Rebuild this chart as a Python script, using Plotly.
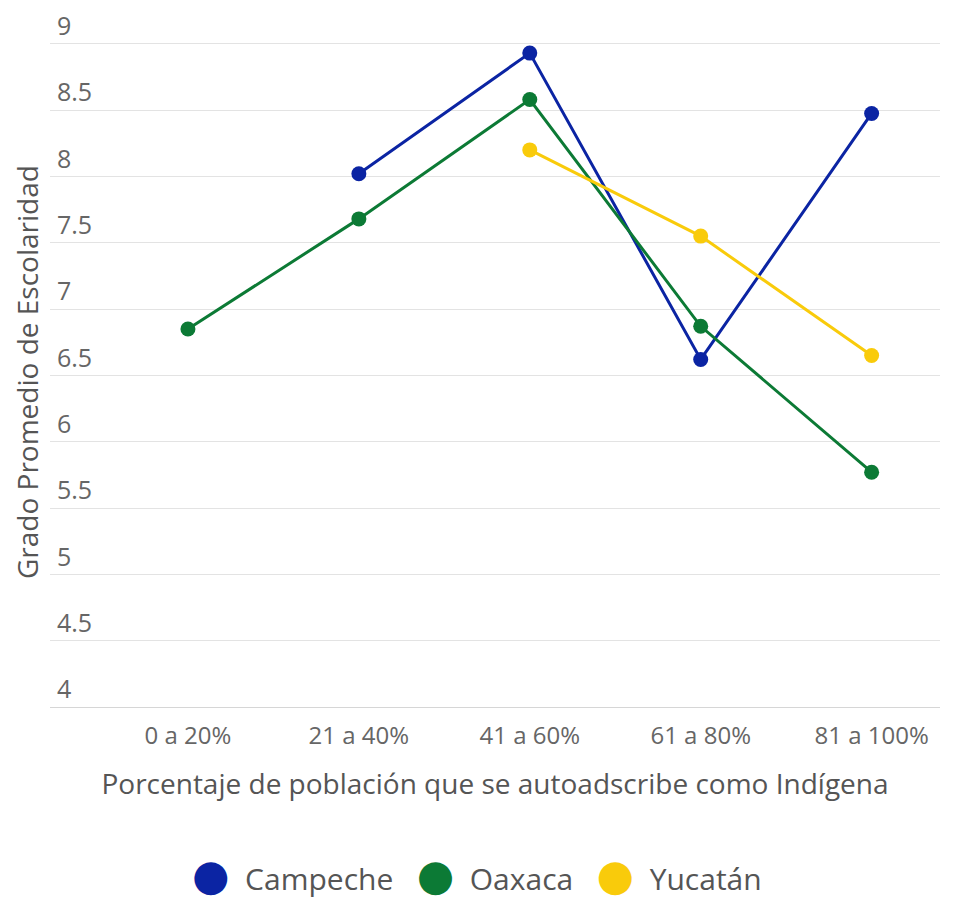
import plotly.graph_objects as go

categories = ["0 a 20%", "21 a 40%", "41 a 60%", "61 a 80%", "81 a 100%"]
campeche = [None, 8.02, 8.93, 6.62, 8.475]
oaxaca = [6.85, 7.68, 8.58, 6.87, 5.77]
yucatan = [None, None, 8.20, 7.55, 6.65]
series_names = ["Campeche", "Oaxaca", "Yucatán"]
colors = ["#0B24A3", "#0C7A35", "#F9CB0B"]
y_ticks = [4, 4.5, 5, 5.5, 6, 6.5, 7, 7.5, 8, 8.5, 9]

FONT = "Open Sans"
fig = go.Figure()
for name, vals, col in zip(series_names, [campeche, oaxaca, yucatan], colors):
    fig.add_trace(go.Scatter(
        x=categories, y=vals, name=name, mode="lines+markers",
        line=dict(color=col, width=3), marker=dict(color=col, size=15),
        connectgaps=False, showlegend=False))

# legend row (big round swatches + series names)
legend_parts = [
    f'<span style="color:{col};font-size:43px;font-family:DejaVu Sans">●</span>'
    f'&nbsp;&nbsp;{name}'
    for name, col in zip(series_names, colors)
]
legend_text = "&nbsp;&nbsp;&nbsp;".join(legend_parts)

fig.update_layout(
    width=956, height=900,
    margin=dict(l=50, r=16, t=4, b=193, autoexpand=False),
    plot_bgcolor="white", paper_bgcolor="white",
    font=dict(family=FONT, color="#666666"),
    showlegend=False,
    xaxis=dict(
        type="category", categoryorder="array", categoryarray=categories,
        range=[-0.807, 4.40], showgrid=False, showline=True,
        linecolor="#d6d6d6", linewidth=1, ticks="",
        tickfont=dict(size=24, color="#666666", family=FONT),
        ticklabelstandoff=7,
        title=dict(text="Porcentaje de población que se autoadscribe como Indígena",
                   font=dict(size=28, color="#555555", family=FONT), standoff=24),
        automargin=False, fixedrange=True),
    yaxis=dict(
        range=[4, 9.3], tickvals=y_ticks, ticktext=[f"{v:g}" for v in y_ticks],
        showgrid=True, gridcolor="#e3e3e3", gridwidth=1, zeroline=False,
        ticklabelposition="inside top", ticks="", ticklabelstandoff=4,
        tickfont=dict(size=25, color="#666666", family=FONT),
        automargin=False, fixedrange=True),
    annotations=[
        dict(text="Grado Promedio de Escolaridad", xref="paper", yref="paper",
             x=-0.0258, y=0.4765, xanchor="center", yanchor="middle", textangle=-90,
             showarrow=False, font=dict(size=28, color="#555555", family=FONT)),
        dict(text=legend_text, xref="paper", yref="paper",
             x=0.4798, y=-0.2395, xanchor="center", yanchor="middle",
             showarrow=False, font=dict(size=30, color="#555555", family=FONT)),
    ],
)

fig.write_html("out.html", post_script="document.body.style.margin='0';",
               config={"displayModeBar": False})
